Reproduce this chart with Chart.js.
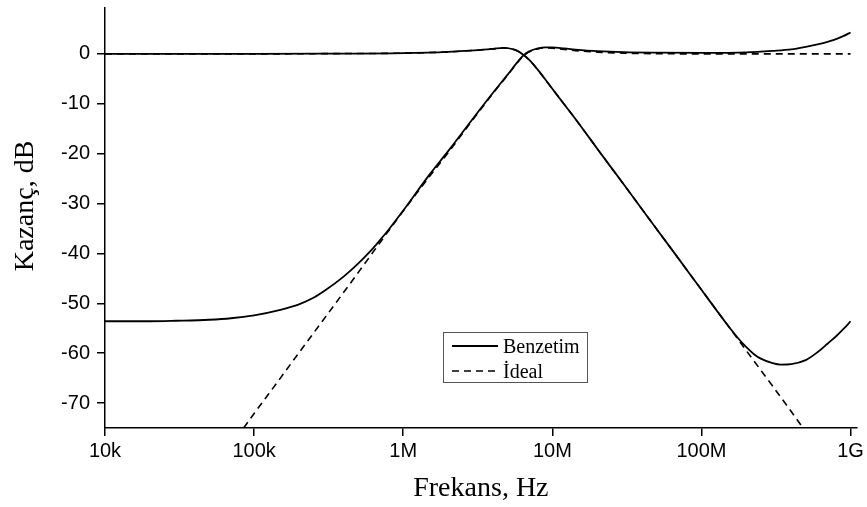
<!DOCTYPE html>
<html>
<head>
<meta charset="utf-8">
<script src="https://cdn.jsdelivr.net/npm/chart.js@4.4.0/dist/chart.umd.min.js"></script>
<style>
  html, body { margin: 0; padding: 0; background: #fff; }
</style>
</head>
<body>
<canvas id="gainChart" width="867" height="507"></canvas>
<script>
// frequency axis ticks
const xTickValues = [1e4, 1e5, 1e6, 1e7, 1e8, 1e9];
const xTickLabels = ['10k', '100k', '1M', '10M', '100M', '1G'];
const yTickValues = [0, -10, -20, -30, -40, -50, -60, -70];

// low-pass output, simulation (Hz, dB)
const lpSimFreq = [1e4, 3e4, 1e5, 3e5, 1e6, 2e6, 3e6, 4e6, 4.7e6, 5.5e6, 6e6, 6.4e6, 7e6, 8e6, 9e6,
  1e7, 1.2e7, 1.5e7, 2e7, 3e7, 5e7, 7e7, 1e8, 1.5e8, 1.75e8, 2e8, 2.25e8, 2.5e8, 3e8, 3.4e8, 4e8, 5e8, 6e8, 7e8, 8e8, 9e8, 1e9];
const lpSimGain = [0, 0, 0, 0.05, 0.15, 0.4, 0.7, 1.0, 1.2, 0.9, 0.4, -0.2, -1.2, -3.2, -5.2,
  -7.0, -10.1, -13.9, -19.0, -26.1, -35.1, -41.0, -47.3, -54.4, -56.9, -58.8, -60.2, -61.1, -62.0, -62.3, -62.2, -61.4, -59.8, -58.1, -56.6, -55.1, -53.6];

// low-pass output, ideal
const lpIdealFreq = [1e4, 3e4, 1e5, 3e5, 1e6, 2e6, 3e6, 4e6, 4.7e6, 5.5e6, 6e6, 6.4e6, 7e6, 8e6, 9e6,
  1e7, 1.2e7, 1.5e7, 2e7, 3e7, 5e7, 7e7, 1e8, 1.5e8, 2e8, 2.5e8, 3e8, 4e8, 4.8e8];
const lpIdealGain = [0, 0, 0, 0.05, 0.15, 0.4, 0.7, 1.0, 1.2, 0.9, 0.4, -0.2, -1.2, -3.2, -5.2,
  -7.0, -10.1, -13.9, -19.0, -26.1, -35.1, -41.0, -47.3, -54.4, -59.5, -63.4, -66.6, -71.7, -75.0];

// high-pass output, simulation
const hpSimFreq = [1e4, 2e4, 3e4, 5e4, 7e4, 1e5, 1.5e5, 2e5, 2.5e5, 3e5, 4e5, 5e5, 6e5, 7e5, 8e5,
  1e6, 1.5e6, 2e6, 3e6, 4e6, 5e6, 6e6, 6.4e6, 7e6, 8e6, 9e6, 1e7, 1.2e7, 1.5e7, 2e7, 3e7, 5e7,
  1e8, 2e8, 3e8, 4e8, 5e8, 6e8, 7e8, 8e8, 9e8, 1e9];
const hpSimGain = [-53.6, -53.6, -53.5, -53.3, -53.0, -52.4, -51.3, -50.2, -48.9, -47.4, -44.6, -42.0, -39.6, -37.3, -35.2,
  -31.4, -24.2, -19.5, -12.6, -7.8, -4.2, -1.2, -0.3, 0.5, 1.1, 1.3, 1.3, 1.1, 0.8, 0.55, 0.35, 0.25,
  0.2, 0.3, 0.6, 0.9, 1.4, 1.9, 2.4, 2.95, 3.6, 4.3];

// high-pass output, ideal
const hpIdealFreq = [8.5e4, 1e5, 1.5e5, 2e5, 3e5, 5e5, 7e5, 1e6, 1.5e6, 2e6, 3e6, 4e6, 5e6, 6e6, 6.4e6,
  7e6, 8e6, 9e6, 1e7, 1.2e7, 1.5e7, 2e7, 3e7, 5e7, 1e8, 1e9];
const hpIdealGain = [-75.0, -72.1, -65.0, -59.9, -52.8, -43.8, -37.8, -31.5, -24.6, -19.8, -12.8, -7.9, -4.3, -1.3, -0.4,
  0.4, 1.0, 1.2, 1.15, 0.9, 0.6, 0.35, 0.15, 0.05, 0, 0];

const toPoints = (xs, ys) => xs.map((x, i) => ({ x: x, y: ys[i] }));

const solid = { borderColor: '#000', borderWidth: 1.8, pointRadius: 0, cubicInterpolationMode: 'monotone', fill: false };
const dashed = { borderColor: '#000', borderWidth: 1.6, pointRadius: 0, cubicInterpolationMode: 'monotone', fill: false, borderDash: [7, 5] };

// legend in a box inside the plot, plus the rotated y title
const boxLegend = {
  id: 'boxLegend',
  afterDraw(chart) {
    const ctx = chart.ctx;
    ctx.save();

    ctx.fillStyle = '#000';
    ctx.font = '28px "Liberation Serif"';
    ctx.textAlign = 'center';
    ctx.textBaseline = 'alphabetic';
    ctx.translate(33, 206);
    ctx.rotate(-Math.PI / 2);
    ctx.fillText('Kazanç, dB', 0, 0);
    ctx.setTransform(1, 0, 0, 1, 0, 0);

    ctx.fillStyle = '#fff';
    ctx.fillRect(443, 332, 144, 50);
    ctx.strokeStyle = '#555';
    ctx.lineWidth = 1;
    ctx.strokeRect(443.5, 332.5, 144, 50);

    const seen = [];
    const items = chart.data.datasets.filter(ds => {
      if (seen.includes(ds.label)) return false;
      seen.push(ds.label);
      return true;
    });
    items.forEach((ds, i) => {
      const y = 346 + i * 25;
      ctx.strokeStyle = ds.borderColor;
      ctx.lineWidth = ds.borderWidth;
      ctx.setLineDash(ds.borderDash || []);
      ctx.beginPath();
      ctx.moveTo(452, y);
      ctx.lineTo(498, y);
      ctx.stroke();
      ctx.setLineDash([]);
      ctx.fillStyle = '#000';
      ctx.font = '20px "Liberation Serif"';
      ctx.textAlign = 'left';
      ctx.textBaseline = 'alphabetic';
      ctx.fillText(ds.label, 503, y + 7);
    });
    ctx.restore();
  }
};

const axisGrid = { drawOnChartArea: false, drawTicks: true, tickLength: 8, color: '#000', lineWidth: 1.5 };
const axisBorder = { display: true, color: '#000', width: 1.5 };
const tickFont = { family: '"Liberation Sans", Arial, sans-serif', size: 20 };

new Chart(document.getElementById('gainChart'), {
  type: 'line',
  data: {
    datasets: [
      Object.assign({ label: 'Benzetim', data: toPoints(lpSimFreq, lpSimGain) }, solid),
      Object.assign({ label: 'Benzetim', data: toPoints(hpSimFreq, hpSimGain) }, solid),
      Object.assign({ label: 'İdeal', data: toPoints(lpIdealFreq, lpIdealGain) }, dashed),
      Object.assign({ label: 'İdeal', data: toPoints(hpIdealFreq, hpIdealGain) }, dashed)
    ]
  },
  options: {
    responsive: false,
    animation: false,
    layout: { padding: { top: 8, right: 10, left: 0, bottom: 0 } },
    plugins: { legend: { display: false }, tooltip: { enabled: false } },
    scales: {
      x: {
        type: 'logarithmic',
        position: 'bottom',
        min: 1e4,
        max: 1.1e9,
        grid: axisGrid,
        border: axisBorder,
        ticks: {
          color: '#000', font: tickFont, padding: 3, autoSkip: false, maxRotation: 0,
          callback: v => xTickLabels[xTickValues.indexOf(v)]
        },
        afterBuildTicks: s => { s.ticks = xTickValues.map(v => ({ value: v })); },
        afterFit: s => { s.height = 79; },
        title: {
          display: true, text: 'Frekans, Hz', color: '#000',
          font: { family: '"Liberation Serif", serif', size: 28 },
          padding: { top: 0, bottom: 2 }
        }
      },
      y: {
        type: 'linear',
        min: -75,
        max: 9.2,
        grid: axisGrid,
        border: axisBorder,
        ticks: { color: '#000', font: tickFont, padding: 7, callback: v => String(v) },
        afterBuildTicks: s => { s.ticks = yTickValues.map(v => ({ value: v })); },
        // top label sits well below the axis end, so no extra room is needed
        afterFit: s => { s.width = 105; s.paddingTop = 0; s.paddingBottom = 0; }
      }
    }
  },
  plugins: [boxLegend]
});
</script>
</body>
</html>
